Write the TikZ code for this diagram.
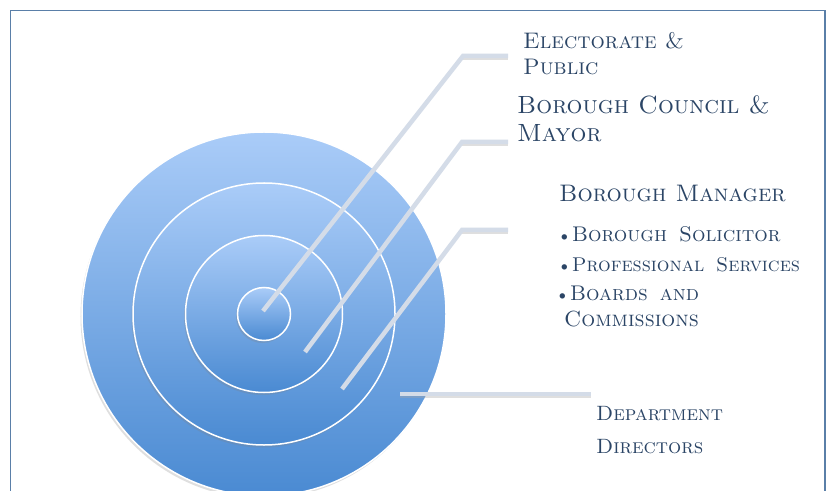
\documentclass[tikz,border=0pt]{standalone}
\usepackage{fontspec}
\usetikzlibrary{shadows}
\definecolor{frame}{HTML}{5A7FA8}
\definecolor{ctop}{HTML}{AACCF8}
\definecolor{cbot}{HTML}{4A8AD2}
\definecolor{leader}{HTML}{D4DCE8}
\definecolor{txt}{HTML}{2B4566}
\tikzset{
  ring/.style={circle, draw=white, line width=1.5bp, top color=ctop, bottom color=cbot,
    inner sep=0pt, minimum size=#1,
    drop shadow={opacity=0.25, shadow xshift=-1.5bp, shadow yshift=-2.5bp}},
  leaderline/.style={draw=leader, line width=4.5bp},
  leadershadow/.style={draw=black!35, line width=4.5bp, opacity=0.35},
  lbl/.style={text=txt, anchor=base west, align=left, inner sep=0pt},
  sc/.style={font=\fontsize{#1}{26}\selectfont\scshape}
}
\newcommand{\dotmark}{{\fontsize{15}{15}\selectfont\textbullet}\hspace{1bp}}
\begin{document}
\begin{tikzpicture}[x=1bp,y=-1bp]
\useasboundingbox (0,0) rectangle (832,491);
\fill[white] (0,0) rectangle (832,491);
\draw[frame, line width=1.3bp] (10.5,10.5) rectangle (825,500);
% rings
\node[ring=364bp] (c4) at (264,314) {};
\node[ring=262bp] (c3) at (264,314) {};
\node[ring=157bp] (c2) at (264,314) {};
\node[ring=53bp]  (c1) at (264,314) {};
% leader coordinates
\coordinate (s1) at (263,311);
\coordinate (k1) at (463,56);
\coordinate (h1) at (508,56);
\coordinate (s2) at (305,352);
\coordinate (k2) at (462,142);
\coordinate (h2) at (508,142);
\coordinate (s3) at (342,389);
\coordinate (k3) at (462,230);
\coordinate (h3) at (508,230);
\coordinate (s4) at (400,394);
\coordinate (h4) at (591,394);
% shadows of horizontal parts
\draw[leadershadow] ([yshift=-2bp]k1) -- ([yshift=-2bp]h1);
\draw[leadershadow] ([yshift=-2bp]k2) -- ([yshift=-2bp]h2);
\draw[leadershadow] ([yshift=-2bp]k3) -- ([yshift=-2bp]h3);
\draw[leadershadow] ([yshift=-2bp]s4) -- ([yshift=-2bp]h4);
% leaders
\draw[leaderline] (s1) -- (k1) -- (h1);
\draw[leaderline] (s2) -- (k2) -- (h2);
\draw[leaderline] (s3) -- (k3) -- (h3);
\draw[leaderline] (s4) -- (h4);
% labels
\node[lbl, font=\fontsize{22.6}{27}\selectfont\scshape] (t1) at (523,75) {Electorate \&\\Public};
\node[lbl, font=\fontsize{25}{29}\selectfont\scshape] (t2) at (517,142) {Borough Council \&\\Mayor};
\node[lbl, font=\fontsize{24}{29}\selectfont\scshape] (t3) at (559,202) {Borough Manager};
\node[lbl, sc=21.3] (b1) at (558,242) {\dotmark Borough\hspace{12bp}Solicitor};
\node[lbl, sc=20] (b2) at (558,272) {\dotmark Professional\hspace{12bp}Services};
\node[lbl, sc=21.3] (b3) at (556,301) {\dotmark Boards\hspace{12bp}and};
\node[lbl, sc=22] (b4) at (564,327) {Commissions};
\node[lbl, font=\fontsize{20.8}{33}\selectfont\scshape] (t4) at (596,453) {Department\\Directors};
\end{tikzpicture}
\end{document}
